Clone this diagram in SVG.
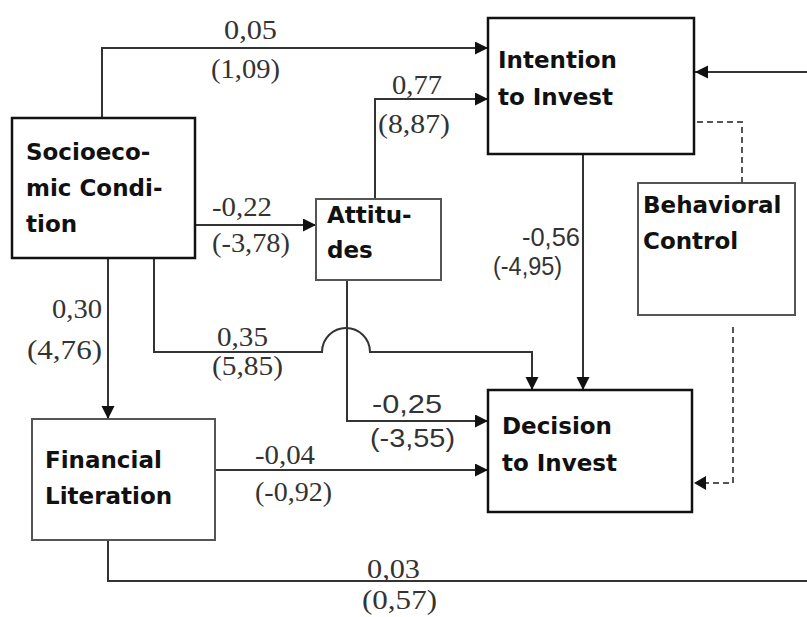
<svg xmlns="http://www.w3.org/2000/svg" width="807" height="617" viewBox="0 0 807 617">
<defs>
<marker id="ah" markerUnits="userSpaceOnUse" markerWidth="14" markerHeight="14" refX="13" refY="6.5" orient="auto">
<path d="M0,0 L13,6.5 L0,13 z" fill="#111"/>
</marker>
<style>
.box{fill:#fff;stroke:#111;stroke-width:2.5}
.box2{fill:#fff;stroke:#555;stroke-width:2}
.nt{font-family:'DejaVu Sans',sans-serif;font-weight:bold;font-size:23px;fill:#111}
.ln{fill:none;stroke:#333;stroke-width:2}
.ar{fill:none;stroke:#333;stroke-width:2;marker-end:url(#ah)}
.ds{fill:none;stroke:#555;stroke-width:2;stroke-dasharray:6 4}
</style>
</defs>
<rect width="807" height="617" fill="#fff"/>
<g id="connectors">
<path class="ar" d="M102,118 V48 H488"/>
<path class="ar" d="M375,199 V99 H488"/>
<path class="ar" d="M807,72 H695"/>
<path class="ds" d="M697,122 H742 V183"/>
<path class="ar" d="M195,225 H316"/>
<path class="ar" d="M108,258 V419"/>
<path class="ar" d="M154,258 V352 H322 A24,24 0 0 1 370,352 H532 V390"/>
<path class="ar" d="M583,154 V390"/>
<path class="ar" d="M347,280 V421 H488"/>
<path class="ar" d="M215,470 H488"/>
<path class="ln" d="M108,540 V581 H807"/>
<path class="ds" d="M733,327 V483 H706"/>
<path d="M706,476 L694,483 L706,490 z" fill="#111"/>
</g>
<g id="labels" fill="#333" font-family="'Liberation Serif', 'Times New Roman', 'DejaVu Serif', serif" font-size="28">
<text x="224" y="39" textLength="53" lengthAdjust="spacingAndGlyphs">0,05</text>
<text x="211" y="78" textLength="69" lengthAdjust="spacingAndGlyphs">(1,09)</text>
<text x="392" y="94" textLength="50" lengthAdjust="spacingAndGlyphs">0,77</text>
<text x="378" y="133" textLength="72" lengthAdjust="spacingAndGlyphs">(8,87)</text>
<text x="212" y="216" textLength="60" lengthAdjust="spacingAndGlyphs">-0,22</text>
<text x="212" y="252" textLength="78" lengthAdjust="spacingAndGlyphs">(-3,78)</text>
<text x="52" y="318" textLength="50" lengthAdjust="spacingAndGlyphs">0,30</text>
<text x="27" y="359" textLength="75" lengthAdjust="spacingAndGlyphs">(4,76)</text>
<text x="217" y="346" textLength="51" lengthAdjust="spacingAndGlyphs">0,35</text>
<text x="212" y="375" textLength="71" lengthAdjust="spacingAndGlyphs">(5,85)</text>
<text x="255" y="464" textLength="60" lengthAdjust="spacingAndGlyphs">-0,04</text>
<text x="255" y="501" textLength="77" lengthAdjust="spacingAndGlyphs">(-0,92)</text>
<text x="367" y="578" textLength="53" lengthAdjust="spacingAndGlyphs">0,03</text>
<text x="362" y="609" textLength="75" lengthAdjust="spacingAndGlyphs">(0,57)</text>
</g>
<g id="labels-sans" fill="#333" font-family="'Liberation Sans', Arial, sans-serif" font-size="26">
<text x="522" y="246" textLength="58" lengthAdjust="spacingAndGlyphs">-0,56</text>
<text x="493" y="275" textLength="69" lengthAdjust="spacingAndGlyphs">(-4,95)</text>
<text x="372" y="413" textLength="70" lengthAdjust="spacingAndGlyphs">-0,25</text>
<text x="370" y="447" textLength="85" lengthAdjust="spacingAndGlyphs">(-3,55)</text>
</g>
<g id="socioeconomic">
<rect class="box" x="12" y="118" width="183" height="140"/>
<text class="nt" x="26" y="160">Socioeco-</text>
<text class="nt" x="26" y="196">mic Condi-</text>
<text class="nt" x="26" y="232">tion</text>
</g>
<g id="attitudes">
<rect class="box2" x="316" y="199" width="125" height="81"/>
<text class="nt" x="327" y="223">Attitu-</text>
<text class="nt" x="327" y="258">des</text>
</g>
<g id="intention">
<rect class="box" x="488" y="18" width="206" height="136"/>
<text class="nt" x="498" y="68">Intention</text>
<text class="nt" x="498" y="105">to Invest</text>
</g>
<g id="behavioral">
<rect class="box2" x="638" y="183" width="157" height="132"/>
<text class="nt" x="643" y="213">Behavioral</text>
<text class="nt" x="643" y="249">Control</text>
</g>
<g id="decision">
<rect class="box" x="488" y="390" width="204" height="122"/>
<text class="nt" x="502" y="434">Decision</text>
<text class="nt" x="502" y="471">to Invest</text>
</g>
<g id="financial">
<rect class="box2" x="32" y="419" width="183" height="121"/>
<text class="nt" x="45" y="468">Financial</text>
<text class="nt" x="45" y="504">Literation</text>
</g>
</svg>
